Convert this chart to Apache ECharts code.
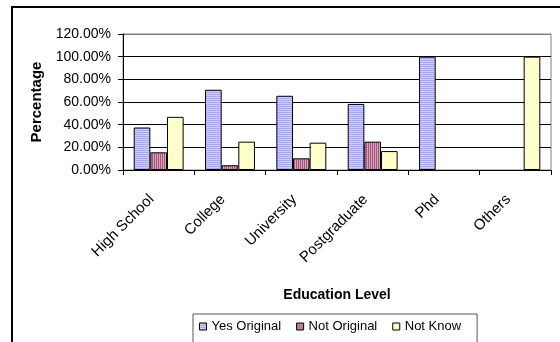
<!DOCTYPE html>
<html>
<head>
<meta charset="utf-8">
<script src="https://cdn.jsdelivr.net/npm/echarts@6/dist/echarts.min.js"></script>
<style>
  html, body { margin: 0; padding: 0; background: #fff; }
  #chart { width: 560px; height: 342px; }
</style>
</head>
<body>
<div id="chart"></div>
<script>
// Survey answers by education level (percent of respondents); null = no answer in that group
const categories = ['High School', 'College', 'University', 'Postgraduate', 'Phd', 'Others'];
const seriesNames = ['Yes Original', 'Not Original', 'Not Know'];
const yesOriginal = [37.5, 70.8, 65.5, 58.3, 100, null];
const notOriginal = [15.6, 4.2, 10.3, 25.0, null, null];
const notKnow = [46.9, 25.0, 24.1, 16.7, null, 100];
const yTicks = [0, 20, 40, 60, 80, 100, 120];

// Striped fills built on small canvases
function stripes(w, h, base, line, vertical) {
  const c = document.createElement('canvas');
  c.width = w; c.height = h;
  const g = c.getContext('2d');
  g.fillStyle = base; g.fillRect(0, 0, w, h);
  g.fillStyle = line;
  if (vertical) g.fillRect(0, 0, 1, h); else g.fillRect(0, 0, w, 1);
  return { image: c, repeat: 'repeat' };
}
const bluePattern = stripes(4, 2, '#ccccff', '#a9a9ee', false);
const redPattern = stripes(2, 4, '#d7a3bb', '#a35a7e', true);

const font = 'Arial, "Liberation Sans", sans-serif';
const chart = echarts.init(document.getElementById('chart'), null, { renderer: 'canvas' });

function barSeries(name, data, fill) {
  return {
    name: name,
    type: 'bar',
    data: data,
    barGap: '0%',
    barCategoryGap: '30%',
    itemStyle: { color: fill, borderColor: '#000', borderWidth: 1 }
  };
}

chart.setOption({
  animation: false,
  backgroundColor: '#fff',
  textStyle: { fontFamily: font },
  graphic: [{
    type: 'rect',
    shape: { x: 12, y: 7, width: 700, height: 500 },
    style: { fill: 'none', stroke: '#000', lineWidth: 2 },
    silent: true
  }],
  grid: {
    left: 123, right: 9, top: 34, bottom: 172,
    show: true, backgroundColor: '#fff', borderColor: '#808080', borderWidth: 1
  },
  legend: {
    data: seriesNames,
    left: 193, top: 314,
    orient: 'horizontal',
    itemWidth: 7, itemHeight: 7, itemGap: 15,
    padding: [6, 16, 30, 6],
    borderColor: '#555', borderWidth: 1,
    textStyle: { fontSize: 13, color: '#000', fontFamily: font },
    icon: 'rect',
    itemStyle: { borderColor: '#000', borderWidth: 1 }
  },
  xAxis: {
    type: 'category',
    data: categories,
    name: 'Education Level',
    nameLocation: 'middle',
    nameGap: 118,
    nameTextStyle: { fontSize: 14, fontWeight: 'bold', color: '#000', fontFamily: font },
    axisLine: { lineStyle: { color: '#000', width: 1 } },
    axisTick: { show: true, length: 5, lineStyle: { color: '#000' } },
    axisLabel: { interval: 0, rotate: 45, margin: 20, padding: [0, 10, 0, 0],
      fontSize: 15, color: '#000', fontFamily: font },
    splitLine: { show: false }
  },
  yAxis: {
    type: 'value',
    min: yTicks[0], max: yTicks[yTicks.length - 1], interval: 20,
    name: 'Percentage',
    nameLocation: 'middle',
    nameGap: 79,
    nameTextStyle: { fontSize: 15, fontWeight: 'bold', color: '#000', fontFamily: font },
    axisLine: { show: true, lineStyle: { color: '#000', width: 1 } },
    axisTick: { show: true, length: 5, lineStyle: { color: '#000' } },
    axisLabel: { margin: 12, fontSize: 14, color: '#000', fontFamily: font,
      formatter: v => v.toFixed(2) + '%' },
    splitLine: { show: true, lineStyle: { color: ['#000', '#000', '#000', '#000', '#000', '#000', '#808080'], width: 1 } }
  },
  series: [
    barSeries(seriesNames[0], yesOriginal, bluePattern),
    barSeries(seriesNames[1], notOriginal, redPattern),
    barSeries(seriesNames[2], notKnow, '#ffffcc')
  ]
});
</script>
</body>
</html>
